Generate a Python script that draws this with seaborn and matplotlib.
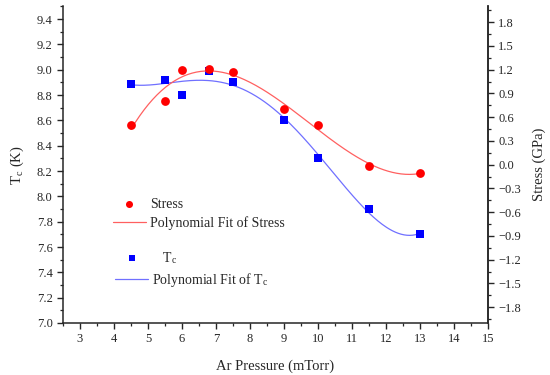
import numpy as np
import pandas as pd
import matplotlib
matplotlib.use("Agg")
import matplotlib.pyplot as plt
from matplotlib.ticker import MultipleLocator
import seaborn as sns

sns.set_style("ticks")
plt.rcParams["font.family"] = ["Liberation Serif", "DejaVu Serif"]
plt.rcParams["mathtext.fontset"] = "stix"

# Data
pressure = [4.5, 5.5, 6.0, 6.8, 7.5, 9.0, 10.0, 11.5, 13.0]
tc = [8.89, 8.92, 8.80, 8.99, 8.90, 8.60, 8.30, 7.90, 7.70]
stress = [0.50, 0.80, 1.20, 1.21, 1.17, 0.70, 0.50, -0.02, -0.10]
STRESS_DEG = 3
TC_DEG = 4

df = pd.DataFrame({"pressure": pressure, "tc": tc, "stress": stress})

# Polynomial fits of the measured points
xs = np.linspace(min(pressure), max(pressure), 200)
fit = pd.DataFrame({
    "pressure": xs,
    "stress": np.polyval(np.polyfit(pressure, stress, STRESS_DEG), xs),
    "tc": np.polyval(np.polyfit(pressure, tc, TC_DEG), xs),
})

fig = plt.figure(figsize=(5.5, 3.75), dpi=100)
ax = fig.add_axes([0.1145, 0.1387, 0.7727, 0.8443])
ax2 = ax.twinx()

sns.lineplot(data=fit, x="pressure", y="tc", ax=ax, color="#7070ff", lw=0.9,
             label="Polynomial Fit of T$_\\mathregular{c}$", legend=False)
sns.scatterplot(data=df, x="pressure", y="tc", ax=ax, color="#0000ff", marker="s",
                s=36, edgecolor="#0000ff", linewidth=0, zorder=3,
                label="   T$_\\mathregular{c}$", legend=False)
sns.lineplot(data=fit, x="pressure", y="stress", ax=ax2, color="#ff6060", lw=0.9,
             label="Polynomial Fit of Stress", legend=False)
sns.scatterplot(data=df, x="pressure", y="stress", ax=ax2, color="#ff0000", marker="o",
                s=40, edgecolor="#ff0000", linewidth=0, zorder=3,
                label="Stress", legend=False)

ax.set_xlim(2.5, 15)
ax.set_ylim(7.0, 9.5)
ax2.set_ylim(-2.0, 2.0)
ax.set_xticks(range(3, 16))
ax.xaxis.set_minor_locator(MultipleLocator(0.5))
left_ticks = np.arange(7.0, 9.41, 0.2)
ax.set_yticks(left_ticks)
ax.set_yticklabels([f"{v:.1f}" for v in left_ticks])
ax.yaxis.set_minor_locator(MultipleLocator(0.1))
right_ticks = np.arange(-1.8, 1.81, 0.3)
ax2.set_yticks(right_ticks)
ax2.set_yticklabels([f"{v:.1f}".replace("-", "\u2212") if abs(v) > 1e-9 else "0.0"
                     for v in right_ticks])
ax2.yaxis.set_minor_locator(MultipleLocator(0.15))

for a in (ax, ax2):
    a.spines["top"].set_visible(False)
    for s in a.spines.values():
        s.set_linewidth(1.1)
    a.tick_params(which="major", direction="out", length=4, width=1.0, labelsize=9)
    a.tick_params(which="minor", direction="out", length=2.2, width=0.9)
ax2.spines["left"].set_visible(False)
ax2.spines["bottom"].set_visible(False)

ax.set_xlabel("Ar Pressure (mTorr)", fontsize=10.5, labelpad=10)
ax.set_ylabel("T$_\\mathregular{c}$ (K)", fontsize=10.5, labelpad=8)
ax2.set_ylabel("Stress (GPa)", fontsize=10.5, labelpad=8)

# Two legends, one per axis
h2, l2 = ax2.get_legend_handles_labels()
h1, l1 = ax.get_legend_handles_labels()
leg_kw = dict(frameon=False, fontsize=10, handlelength=2.4, handletextpad=0.3,
              borderpad=0, borderaxespad=0, loc="upper left",
              bbox_transform=fig.transFigure, markerscale=0.8, labelspacing=0.35)
leg1 = ax2.legend([h2[1], h2[0]], [l2[1], l2[0]], bbox_to_anchor=(0.205, 0.472), **leg_kw)
ax2.add_artist(leg1)
ax2.legend([h1[1], h1[0]], [l1[1], l1[0]], bbox_to_anchor=(0.209, 0.333), **leg_kw)

fig.savefig("out.png", dpi=100)
